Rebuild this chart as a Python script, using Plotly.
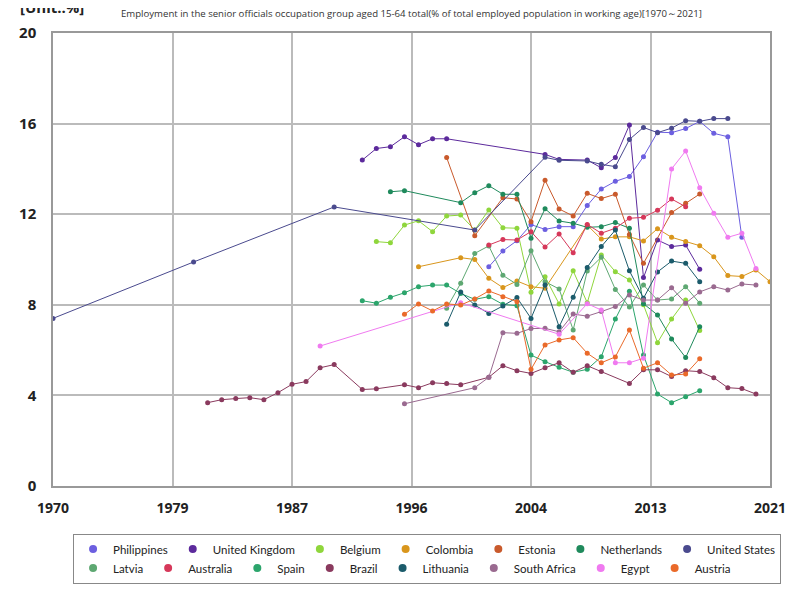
import plotly.graph_objects as go

# ---- data ----
philippines_years = list(range(2001, 2020))
philippines_vals = [9.68, 10.38, 10.83, 11.54, 11.33, 11.45, 11.45, 12.38, 13.11, 13.45,
                    13.66, 14.54, 15.62, 15.6, 15.78, 16.1, 15.57, 15.42, 10.98]

uk_years = [1992, 1993, 1994, 1995, 1996, 1997, 1998, 2005, 2006, 2008, 2009, 2010, 2011,
            2012, 2013, 2014, 2015, 2016]
uk_vals = [14.39, 14.9, 14.98, 15.42, 15.07, 15.33, 15.33, 14.64, 14.42, 14.39, 14.05, 14.5,
           15.94, 9.2, 10.86, 10.57, 10.64, 9.57]

belgium_years = list(range(1993, 2017))
belgium_vals = [10.79, 10.74, 11.52, 11.71, 11.23, 11.92, 11.96, 11.3, 12.19, 11.4, 11.38, 8.55,
                9.24, 8.04, 9.5, 8.09, 10.2, 9.46, 9.1, 8.0, 6.33, 7.37, 8.21, 6.86]

colombia_years = [1996, 1999, 2000, 2001, 2002, 2003, 2004, 2005, 2008, 2009, 2010, 2011, 2012,
                  2013, 2014, 2015, 2016, 2017, 2018, 2019, 2020, 2021]
colombia_vals = [9.68, 10.08, 10.0, 9.17, 8.76, 9.05, 8.8, 8.73, 11.52, 10.9, 11.0, 11.0, 10.82,
                 11.36, 10.98, 10.79, 10.61, 10.12, 9.29, 9.25, 9.54, 9.02]

estonia_years = [1998, 2000, 2002, 2003, 2004, 2005, 2006, 2007, 2008, 2009, 2010, 2011, 2012,
                 2014, 2015, 2016]
estonia_vals = [14.5, 11.05, 12.73, 12.67, 11.67, 13.5, 12.23, 11.92, 12.92, 12.69, 12.88, 11.1,
                9.83, 12.07, 12.48, 12.89]

netherlands_years = [1994, 1995, 1999, 2000, 2001, 2002, 2003, 2004, 2005, 2006, 2007, 2008,
                     2009, 2010, 2011, 2012, 2013, 2014, 2015, 2016]
netherlands_vals = [12.99, 13.04, 12.51, 12.95, 13.26, 12.88, 12.88, 10.94, 12.24, 11.7, 11.6,
                    11.42, 11.45, 11.63, 11.38, 8.05, 7.55, 6.49, 5.67, 7.03]

us_years = [1970, 1980, 1990, 2000, 2005, 2006, 2008, 2009, 2010, 2011, 2012, 2013, 2014, 2015,
            2016, 2017, 2018]
us_vals = [7.4, 9.89, 12.32, 11.3, 14.51, 14.38, 14.35, 14.2, 14.1, 15.3, 15.83, 15.6, 15.8,
           16.13, 16.1, 16.22, 16.22]

latvia_years = list(range(1998, 2017))
latvia_vals = [7.85, 8.95, 10.27, 10.6, 9.3, 8.9, 10.39, 9.02, 8.7, 6.89, 9.49, 10.1, 8.68, 7.9,
               8.87, 8.21, 8.26, 8.8, 8.07]

australia_years = list(range(2001, 2016))
australia_vals = [10.64, 10.88, 10.86, 11.23, 10.55, 11.13, 10.3, 11.55, 11.16, 11.38, 11.82,
                  11.86, 12.17, 12.67, 12.33]

spain_years = list(range(1992, 2017))
spain_vals = [8.18, 8.07, 8.33, 8.53, 8.8, 8.87, 8.87, 8.5, 8.24, 8.36, 8.02, 7.96, 5.78, 5.49,
              5.24, 5.02, 5.15, 5.71, 7.37, 8.6, 5.78, 4.06, 3.68, 3.94, 4.21]

brazil_years = [1981, 1982, 1983, 1984, 1985, 1986, 1987, 1988, 1989, 1990, 1992, 1993, 1995,
                1996, 1997, 1998, 1999, 2001, 2002, 2003, 2004, 2005, 2006, 2007, 2008, 2009,
                2011, 2012, 2013, 2014, 2015, 2016, 2017, 2018, 2019, 2020]
brazil_vals = [3.68, 3.81, 3.86, 3.9, 3.81, 4.12, 4.49, 4.61, 5.22, 5.36, 4.26, 4.29, 4.47, 4.34,
               4.56, 4.52, 4.47, 4.8, 5.31, 5.09, 4.97, 5.22, 5.44, 5.02, 5.31, 5.05, 4.53, 5.13,
               5.13, 4.83, 5.09, 5.05, 4.78, 4.34, 4.3, 4.06]

lithuania_years = list(range(1998, 2017))
lithuania_vals = [7.14, 8.56, 7.99, 7.62, 7.95, 8.32, 7.4, 8.87, 7.03, 8.33, 9.65, 10.57, 11.3,
                  9.5, 8.29, 9.45, 9.93, 9.83, 9.02]

south_africa_years = [1995, 2000] + list(range(2001, 2021))
south_africa_vals = [3.63, 4.34, 4.8, 6.77, 6.74, 6.95, 6.96, 6.81, 7.59, 7.5, 7.7, 7.92, 8.43,
                     8.21, 8.21, 8.75, 8.07, 8.57, 8.8, 8.65, 8.92, 8.87]

egypt_years = [1989, 1999, 2006, 2008, 2009, 2010, 2011, 2012, 2014, 2015, 2016, 2017, 2018,
               2019, 2020]
egypt_vals = [6.18, 8.09, 6.7, 8.05, 7.77, 5.44, 5.44, 5.64, 14.0, 14.79, 13.17, 12.04, 10.98,
              11.16, 9.6]

austria_years = list(range(1995, 2017))
austria_vals = [7.58, 8.04, 7.73, 8.04, 7.99, 8.26, 8.61, 8.36, 8.14, 5.15, 6.23, 6.45, 6.55,
                5.86, 5.44, 5.7, 6.89, 5.2, 5.44, 4.9, 4.94, 5.62]

x_tickvals = [1970, 1978.5, 1987, 1995.5, 2004, 2012.5, 2021]
x_ticktext = ['1970', '1979', '1987', '1996', '2004', '2013', '2021']
y_tickvals = [0, 4, 8, 12, 16, 20]

series = [
    ('Philippines', philippines_years, philippines_vals, '#6c5fe0'),
    ('United Kingdom', uk_years, uk_vals, '#5c2a9c'),
    ('Belgium', belgium_years, belgium_vals, '#8fd63c'),
    ('Colombia', colombia_years, colombia_vals, '#d9961c'),
    ('Estonia', estonia_years, estonia_vals, '#c95a2c'),
    ('Netherlands', netherlands_years, netherlands_vals, '#1f8a5c'),
    ('United States', us_years, us_vals, '#4a4a8e'),
    ('Latvia', latvia_years, latvia_vals, '#5ea872'),
    ('Australia', australia_years, australia_vals, '#d6385a'),
    ('Spain', spain_years, spain_vals, '#2ca56c'),
    ('Brazil', brazil_years, brazil_vals, '#8a3a5e'),
    ('Lithuania', lithuania_years, lithuania_vals, '#1b5b6b'),
    ('South Africa', south_africa_years, south_africa_vals, '#9a6a90'),
    ('Egypt', egypt_years, egypt_vals, '#f07af0'),
    ('Austria', austria_years, austria_vals, '#ea6a2a'),
]

fig = go.Figure()

for name, years, vals, color in series:
    fig.add_trace(go.Scatter(
        x=years, y=vals, name=name, mode='lines+markers', legendgroup=name, showlegend=False,
        line=dict(color=color, width=1), marker=dict(color=color, size=5)
    ))
    # dot-only legend entry
    fig.add_trace(go.Scatter(
        x=[None], y=[None], name=name, mode='markers', legendgroup=name,
        marker=dict(color=color, size=8)
    ))

# page body adds ~8px offset, so margins are 8px smaller than the target positions
fig.update_layout(
    width=800, height=600,
    margin=dict(l=45, r=38, t=25, b=122, autoexpand=False),
    plot_bgcolor='white', paper_bgcolor='white',
    font=dict(family='Open Sans', color='#222'),
    title=dict(
        text='Employment in the senior officials occupation group aged 15-64 total(% of total employed population in working age)[1970～2021]',
        x=0.5, xref='paper', y=0.99, yanchor='middle', font=dict(size=9.6, color='#333')
    ),
    legend=dict(
        orientation='h', x=0.028, y=-0.105, xanchor='left', yanchor='top',
        bordercolor='#888', borderwidth=1, font=dict(family='Lato', size=11.5, color='#222'),
        itemwidth=30, tracegroupgap=0
    ),
    annotations=[dict(
        text='[Unit:.%]', xref='paper', yref='paper', x=-0.049, y=1.03,
        xanchor='left', yanchor='bottom', showarrow=False,
        font=dict(size=15, color='#222', weight='bold')
    )]
)

fig.update_xaxes(
    range=[1970, 2021], tickvals=x_tickvals, ticktext=x_ticktext, automargin=False,
    showgrid=True, gridcolor='#bbbbbb', gridwidth=1.5,
    showline=True, linecolor='#999999', linewidth=1.5, mirror=True,
    zeroline=False, ticks='', ticklabelstandoff=8,
    tickfont=dict(size=14, weight='bold', color='#222')
)
fig.update_yaxes(
    range=[0, 20], tickvals=y_tickvals, automargin=False,
    showgrid=True, gridcolor='#bbbbbb', gridwidth=1.5,
    showline=True, linecolor='#999999', linewidth=1.5, mirror=True,
    zeroline=False, ticks='', ticklabelstandoff=12,
    tickfont=dict(size=15, weight='bold', color='#222')
)

fig.write_html("out.html")
